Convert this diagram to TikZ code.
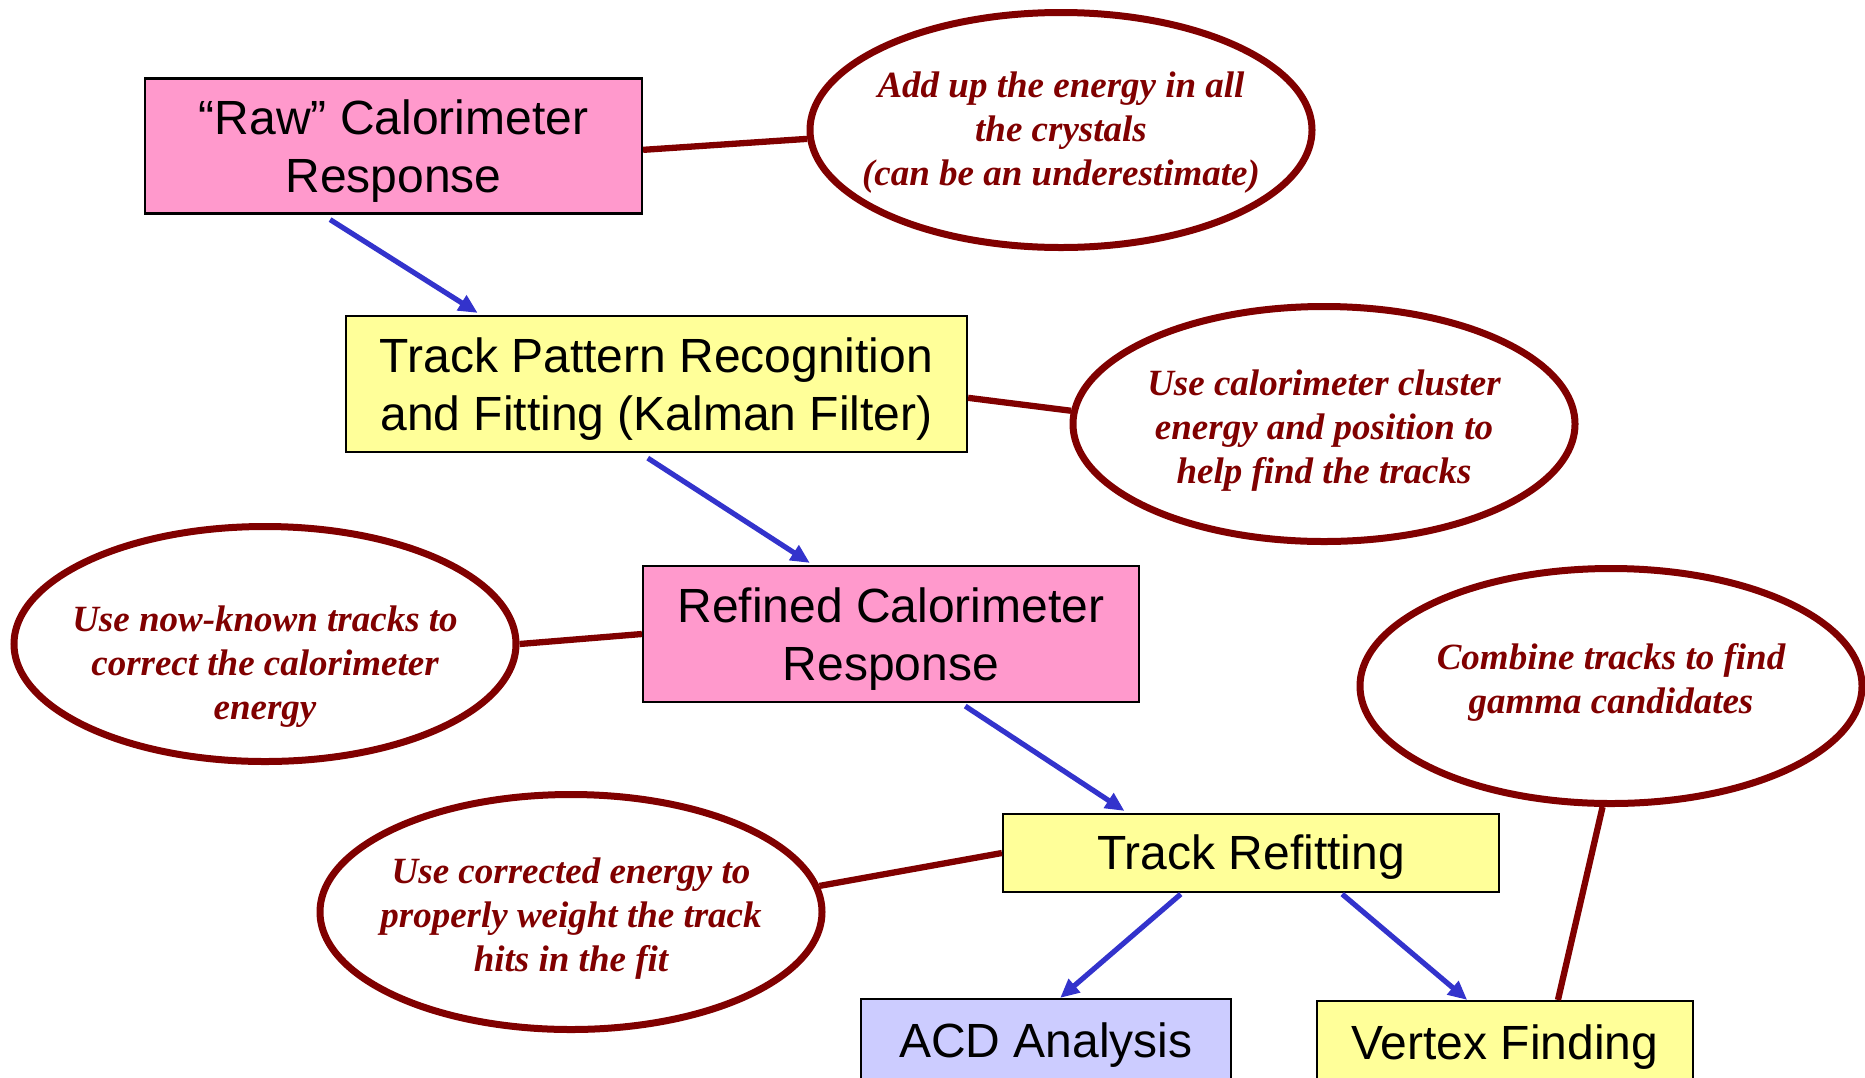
\documentclass[tikz,border=0pt]{standalone}
\usepackage{fontspec}
\setmainfont{Liberation Sans}
\newfontfamily\notefont{Liberation Serif}
\usetikzlibrary{shapes.geometric,arrows.meta,calc}
\definecolor{pinkbox}{HTML}{FF99CC}
\definecolor{yellowbox}{HTML}{FFFF99}
\definecolor{lavbox}{HTML}{CCCCFF}
\definecolor{maroon}{HTML}{800000}
\definecolor{flowblue}{HTML}{3333CC}
\newcommand{\lowered}[2]{\raisebox{-#1}[\height][\depth]{\begin{tabular}{@{}c@{}}#2\end{tabular}}}
\begin{document}
\begin{tikzpicture}[x=1pt,y=-1pt,
  box/.style={draw=black,line width=2.2pt,inner sep=0pt,align=center,font=\fontsize{48}{58}\selectfont},
  note/.style={ellipse,draw=maroon,line width=7pt,minimum width=502pt,minimum height=235pt,inner sep=0pt},
  notetext/.style={font=\notefont\bfseries\itshape\fontsize{37}{44}\selectfont,text=maroon,align=center},
  flow/.style={draw=flowblue,line width=5.2pt,-{Triangle[length=19pt,width=17pt]}},
  link/.style={draw=maroon,line width=6.3pt}]
\useasboundingbox (0,0) rectangle (1865,1077);
\clip (0,0) rectangle (1865,1077);

% boxes
\node[box,fill=pinkbox,minimum width=497pt,minimum height=135pt] (raw) at (393.5,146) {\lowered{6pt}{“Raw” Calorimeter\\Response}};
\node[box,fill=yellowbox,minimum width=621pt,minimum height=136pt] (track) at (656.5,384) {\lowered{6pt}{Track Pattern Recognition\\and Fitting (Kalman Filter)}};
\node[box,fill=pinkbox,minimum width=496pt,minimum height=136pt] (refined) at (891,634) {\lowered{6pt}{Refined Calorimeter\\Response}};
\node[box,fill=yellowbox,minimum width=496pt,minimum height=78pt] (refit) at (1251,853) {\lowered{5pt}{Track Refitting}};
\node[box,fill=lavbox,minimum width=370pt,minimum height=86pt] (acd) at (1046,1042) {\lowered{4pt}{ACD Analysis}};
\node[box,fill=yellowbox,minimum width=376pt,minimum height=86pt] (vertex) at (1505,1044) {\lowered{4pt}{Vertex Finding}};

% notes
\node[note,label={[notetext,yshift=-3pt]center:{Add up the energy in all\\the crystals\\(can be an underestimate)}}] (n1) at (1061,130) {};
\node[note,label={[notetext,yshift=-7pt]center:{Use calorimeter cluster\\energy and position to\\help find the tracks}}] (n2) at (1324,424) {};
\node[note,label={[notetext,yshift=-23pt]center:{Use now-known tracks to\\correct the calorimeter\\energy}}] (n3) at (265,644) {};
\node[note,label={[notetext,yshift=4pt]center:{Combine tracks to find\\gamma candidates}}] (n4) at (1611,686) {};
\node[note,label={[notetext,yshift=-7pt]center:{Use corrected energy to\\properly weight the track\\hits in the fit}}] (n5) at (571,912) {};

% maroon links
\draw[link] ($(raw.north east)!0.528!(raw.south east)$) -- (n1.182);
\draw[link] ($(track.north east)!0.6!(track.south east)$) -- (n2.177);
\draw[link] (n3.east) -- (refined.west);
\draw[link] (n5.6) -- (refit.west);
\draw[link] (n4.266) -- ($(vertex.north west)!0.64!(vertex.north east)$);

% flow arrows
\draw[flow] ($(raw.south west)!0.373!(raw.south east)+(0,5)$) -- ($(track.north west)!0.213!(track.north east)+(0,-2)$);
\draw[flow] ($(track.south west)!0.486!(track.south east)+(0,5)$) -- ($(refined.north west)!0.337!(refined.north east)+(0,-2)$);
\draw[flow] ($(refined.south west)!0.649!(refined.south east)+(0,3)$) -- ($(refit.north west)!0.246!(refit.north east)+(0,-2)$);
\draw[flow] ($(refit.south west)!0.359!(refit.south east)+(0,1)$) -- ($(acd.north west)!0.538!(acd.north east)+(0,0)$);
\draw[flow] ($(refit.south west)!0.683!(refit.south east)+(0,1)$) -- ($(vertex.north west)!0.40!(vertex.north east)+(0,0)$);
\end{tikzpicture}
\end{document}
